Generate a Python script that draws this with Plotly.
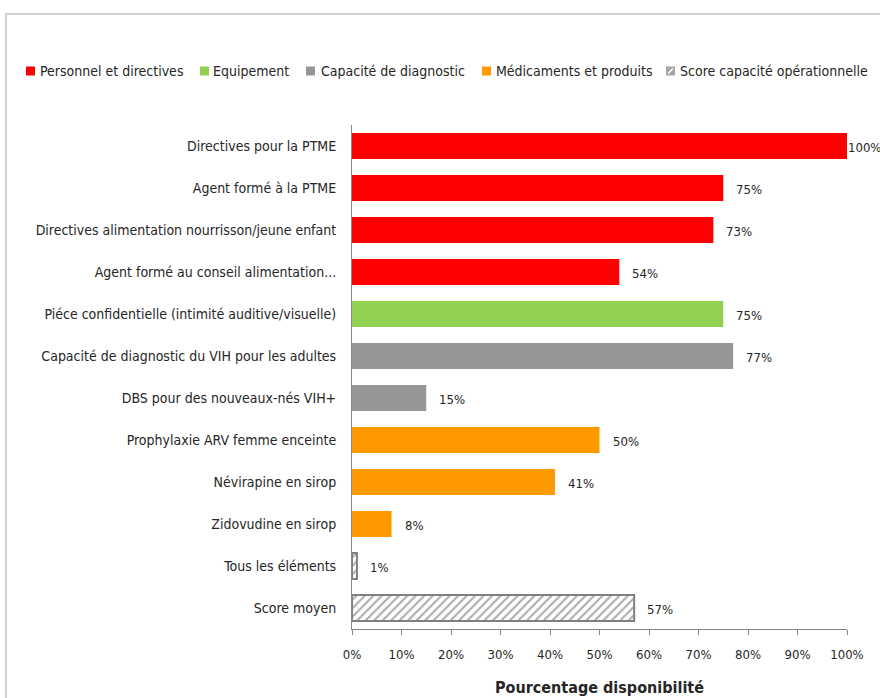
import plotly.graph_objects as go

categories = [
    "Directives pour la PTME",
    "Agent formé à la PTME",
    "Directives alimentation nourrisson/jeune enfant",
    "Agent formé au conseil alimentation...",
    "Piéce confidentielle (intimité auditive/visuelle)",
    "Capacité de diagnostic du VIH pour les adultes",
    "DBS pour des nouveaux-nés VIH+",
    "Prophylaxie ARV femme enceinte",
    "Névirapine en sirop",
    "Zidovudine en sirop",
    "Tous les éléments",
    "Score moyen",
]
values = [100, 75, 73, 54, 75, 77, 15, 50, 41, 8, 1, 57]
groups = [
    "Personnel et directives", "Personnel et directives", "Personnel et directives", "Personnel et directives",
    "Equipement",
    "Capacité de diagnostic", "Capacité de diagnostic",
    "Médicaments et produits", "Médicaments et produits", "Médicaments et produits",
    "Score capacité opérationnelle", "Score capacité opérationnelle",
]
group_order = ["Personnel et directives", "Equipement", "Capacité de diagnostic",
               "Médicaments et produits", "Score capacité opérationnelle"]
group_colors = {
    "Personnel et directives": "#FF0000",
    "Equipement": "#92D050",
    "Capacité de diagnostic": "#969696",
    "Médicaments et produits": "#FF9900",
    "Score capacité opérationnelle": "#A6A6A6",
}
tick_vals = [0, 10, 20, 30, 40, 50, 60, 70, 80, 90, 100]
tick_text = [f"{v}%" for v in tick_vals]

FONT = "DejaVu Sans Condensed, Liberation Sans, sans-serif"
TXT = "#262626"

# plot-area geometry in pixels (layout only)
L, R, T, B, W, H = 352, 33, 125, 69, 880, 698
PW, PH = W - L - R, H - T - B


def px2x(px):
    return (px - L) / PW


def px2y(py):
    return (H - B - py) / PH


fig = go.Figure()
for g in group_order:
    ys = [c for c, gg in zip(categories, groups) if gg == g]
    xs = [v for v, gg in zip(values, groups) if gg == g]
    if g == "Score capacité opérationnelle":
        marker = dict(color="#FFFFFF",
                      pattern=dict(shape="/", fgcolor="#595959", bgcolor="#FFFFFF", size=6, solidity=0.35),
                      line=dict(color="#808080", width=2))
    else:
        marker = dict(color=group_colors[g], line=dict(width=0))
    fig.add_trace(go.Bar(x=xs, y=ys, orientation="h", name=g, marker=marker, showlegend=False,
                         hovertemplate="%{y}: %{x}%<extra></extra>"))

for c, v in zip(categories, values):
    fig.add_annotation(x=v, y=c, text=f"{v}%", showarrow=False, xanchor="left",
                       xshift=-1 if v >= 100 else 11, yshift=-1,
                       font=dict(family=FONT, size=13, color=TXT))

# custom one-row legend (symbol left px, text left px)
legend_pos = [(26, 38), (200, 211), (306, 319), (482, 494), (666, 678)]
ly = 71
for g, (sx, tx) in zip(group_order, legend_pos):
    fig.add_shape(type="rect", xref="paper", yref="paper",
                  x0=px2x(sx), x1=px2x(sx + 9), y0=px2y(ly + 4.5), y1=px2y(ly - 4.5),
                  fillcolor=group_colors[g], line=dict(width=0))
    if g == "Score capacité opérationnelle":
        fig.add_shape(type="line", xref="paper", yref="paper",
                      x0=px2x(sx + 2), x1=px2x(sx + 7), y0=px2y(ly + 2.5), y1=px2y(ly - 2.5),
                      line=dict(color="white", width=1.5))
    fig.add_annotation(xref="paper", yref="paper", x=px2x(tx), y=px2y(ly), text=g,
                       showarrow=False, xanchor="left", yanchor="middle",
                       font=dict(family=FONT, size=14, color=TXT))

# outer chart frame
fig.add_shape(type="rect", xref="paper", yref="paper",
              x0=px2x(6), x1=px2x(905), y0=px2y(720), y1=px2y(14),
              line=dict(color="#D0D0D0", width=2), fillcolor="rgba(0,0,0,0)", layer="below")

fig.update_layout(
    width=W, height=H,
    margin=dict(l=L, r=R, t=T, b=B),
    paper_bgcolor="white", plot_bgcolor="white",
    barmode="relative", bargap=0.38,
    font=dict(family=FONT, size=14, color=TXT),
    showlegend=False,
    xaxis=dict(range=[0, 100], tickvals=tick_vals, ticktext=tick_text, automargin=False,
               showgrid=False, zeroline=False, showline=True, linecolor="#868686", linewidth=1,
               ticks="outside", ticklen=5, tickcolor="#868686", ticklabelstandoff=8,
               tickfont=dict(family=FONT, size=13, color=TXT),
               title=dict(text="<b>Pourcentage disponibilité</b>", standoff=21,
                          font=dict(family=FONT, size=16, color=TXT))),
    yaxis=dict(categoryorder="array", categoryarray=categories, autorange="reversed", automargin=False,
               showgrid=False, zeroline=False, showline=True, linecolor="#868686", linewidth=1,
               ticks="", ticklabelstandoff=12,
               tickfont=dict(family=FONT, size=14, color=TXT)),
)

fig.write_html("out.html", config={"displayModeBar": False},
               post_script="document.body.style.margin='0';document.body.style.overflow='hidden';")
